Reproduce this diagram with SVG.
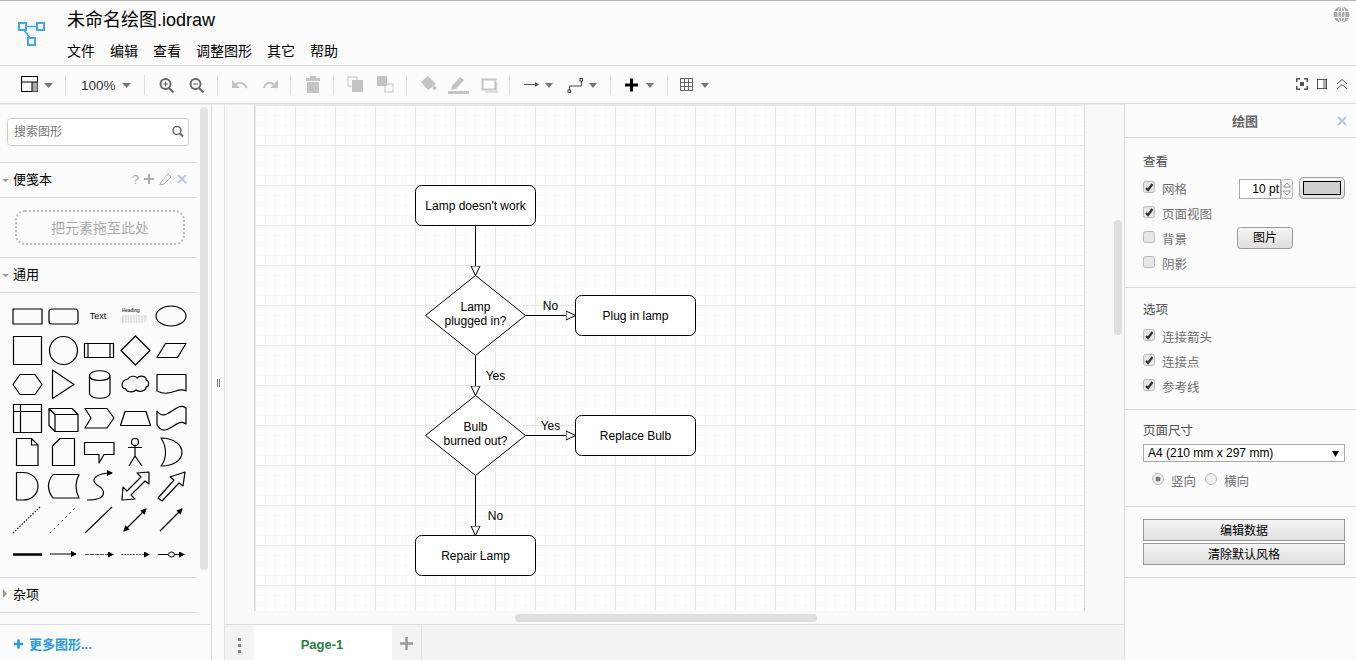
<svg xmlns="http://www.w3.org/2000/svg" width="1356" height="660" viewBox="0 0 1356 660">
<style>
text{font-family:"Liberation Sans","Noto Sans CJK SC",sans-serif}
.c{text-anchor:middle}
.m{font-size:14px}
.n{font-size:12px;text-anchor:middle}
.sb{font-size:13px}
.g{font-size:12.5px;fill:#707070}
.h{font-size:12.5px;fill:#505050}
.sep{stroke:#dadada;stroke-width:1;fill:none}
.tb{stroke:#e0e0e0;stroke-width:1;fill:none}
.ic{fill:none;stroke:#000;stroke-width:1.2;stroke-linejoin:round}
.i1{fill:none;stroke:#666;stroke-width:2}
.dis{fill:#c4c4c4;stroke:none}
.disl{fill:none;stroke:#c4c4c4;stroke-width:2}
.car{fill:#777}
.cb{fill:#e6e6e6;stroke:#bbb;stroke-width:1}
.ck{fill:none;stroke:#333;stroke-width:2.2}
.btn{fill:url(#bg);stroke:#999;stroke-width:1}
.node{fill:#fff;stroke:#000;stroke-width:1}
.e{fill:none;stroke:#000;stroke-width:1;marker-end:url(#tri)}
</style>
<defs>
<pattern id="grid" x="255" y="105" width="40" height="40" patternUnits="userSpaceOnUse">
<rect width="40" height="40" fill="#fff"/>
<path d="M10.5 0V40M20.5 0V40M30.5 0V40M0 10.5H40M0 20.5H40M0 30.5H40" stroke="#f6f6f6" stroke-width="1" fill="none"/>
<path d="M.5 0V40M0 .5H40" stroke="#e8e8e8" stroke-width="1" fill="none"/>
</pattern>
<linearGradient id="bg" x1="0" y1="0" x2="0" y2="1"><stop offset="0" stop-color="#f6f6f6"/><stop offset="1" stop-color="#dedede"/></linearGradient>
<marker id="tri" markerUnits="userSpaceOnUse" markerWidth="12" markerHeight="11" refX="10" refY="5" orient="auto" viewBox="0 0 12 10">
<path d="M.5 .5L10 5L.5 9.500Z" fill="#fff" stroke="#000" stroke-width="1"/>
</marker>
<marker id="ah" markerUnits="userSpaceOnUse" markerWidth="6" markerHeight="6" refX="5" refY="3" orient="auto" viewBox="0 0 6 6"><path d="M0 0L6 3L0 6Z" fill="#000"/></marker>
<marker id="ahs" markerUnits="userSpaceOnUse" markerWidth="6" markerHeight="6" refX="5" refY="3" orient="auto-start-reverse" viewBox="0 0 6 6"><path d="M0 0L6 3L0 6Z" fill="#000"/></marker>
</defs>

<rect width="1356" height="660" fill="#fbfbfb"/>
<rect width="1356" height="1" fill="#b5b5b5"/>

<g id="canvas">
<rect x="225" y="104" width="899" height="521" fill="#f8f9fa"/>
<rect x="224" y="104" width="1" height="521" fill="#e4e4e4"/>
<rect x="254" y="104" width="1" height="507" fill="#dcdcdc"/>
<rect x="1084" y="104" width="1" height="507" fill="#dcdcdc"/>
<rect x="255" y="104" width="829" height="507" fill="url(#grid)"/>
<rect x="1114" y="220" width="8" height="115" rx="4" fill="#dedede"/>
<rect x="515" y="614" width="302" height="8" rx="4" fill="#dedede"/>
</g>

<g id="header">
<g fill="none" stroke="#3fa9e8" stroke-width="2">
<rect x="19" y="23" width="7" height="7"/><rect x="37" y="23" width="7" height="7"/><rect x="28" y="38" width="7" height="7"/>
<path d="M26 26.500H37M24 30L30 38" stroke-width="1.500"/>
</g>
<text x="67" y="26" font-size="18px">未命名绘图.iodraw</text>
<text x="67" y="56" class="m">文件</text>
<text x="110" y="56" class="m">编辑</text>
<text x="153" y="56" class="m">查看</text>
<text x="196" y="56" class="m">调整图形</text>
<text x="267" y="56" class="m">其它</text>
<text x="310" y="56" class="m">帮助</text>
<circle cx="1341.500" cy="14.500" r="8" fill="#a8a8a8"/>
<g fill="none" stroke="#fbfbfb" stroke-width="1"><ellipse cx="1341.500" cy="14.500" rx="3.500" ry="8"/><path d="M1334 11.500H1349M1334 17.500H1349M1341.500 7V22"/></g>
</g>

<g id="toolbar">
<rect y="65" width="1356" height="1" fill="#dadada"/>
<rect y="103" width="1356" height="1.500" fill="#dadada"/>
<path class="tb" d="M65.500 75V95M144.500 75V95M217.500 75V95M290.500 75V95M333.500 75V95M406.500 75V95M509.500 75V95M610.500 75V95M667.500 75V95"/>
<rect x="21.500" y="76.500" width="16" height="15" fill="none" stroke="#000"/><rect x="32" y="82" width="5.500" height="9.500" fill="#aaa"/><path d="M21.500 82H37.500M32 82V91.500" fill="none" stroke="#000"/>
<path class="car" d="M44 83H53L48.500 88Z"/>
<text x="81" y="90" font-size="13.500px" style="fill:#333">100%</text>
<path class="car" d="M122 83H131L126.500 88Z"/>
<g class="i1"><circle cx="165.500" cy="84" r="5"/><path d="M169 88L173.500 92.500"/><path d="M163 84H168M165.500 81.500V86.500" stroke-width="1"/></g>
<g class="i1"><circle cx="195.500" cy="84" r="5"/><path d="M199 88L203.500 92.500"/><path d="M193 84H198" stroke-width="1"/></g>
<path class="disl" d="M234 88C236 81 243 81 247 88"/><path class="dis" d="M232 80V88H240Z"/>
<path class="disl" d="M264 88C266 81 273 81 276 88"/><path class="dis" d="M278 80V88H270Z"/>
<path class="dis" d="M306 78H320V81H306ZM310 76H316V78H310ZM307 82H319V93H307Z"/>
<g class="disl" stroke-width="1.500"><rect x="348" y="77" width="9" height="9" stroke-width="1"/><rect x="353" y="81" width="9" height="10" fill="#c4c4c4"/></g>
<g class="disl" stroke-width="1.500"><rect x="378" y="77" width="8" height="8" fill="#c4c4c4"/><rect x="385" y="84" width="8" height="8" stroke-width="1"/></g>
<path class="dis" d="M421 82L428 76L436 84L428 90Z"/><circle class="dis" cx="434.500" cy="88" r="2"/>
<path class="dis" d="M452 86L460 77L464 80L456 89L451 90Z"/><rect class="dis" x="448" y="91" width="21" height="3"/>
<path d="M496.500 83V92H486" fill="none" stroke="#ddd" stroke-width="2"/><rect x="482.500" y="79.500" width="13" height="10" fill="#fff" stroke="#c4c4c4" stroke-width="2"/>
<path d="M524 84.500H537" stroke="#555" stroke-width="1"/><path d="M535 82L539 84.500L535 87Z" fill="#555"/>
<path class="car" d="M545 83H553L549 88Z"/>
<path d="M569.500 91V86H581.500V80" fill="none" stroke="#444"/><rect x="568" y="90" width="2.500" height="2.500" fill="#fff" stroke="#444"/><rect x="580" y="78.500" width="2.500" height="2.500" fill="#fff" stroke="#444"/>
<path class="car" d="M589 83H597L593 88Z"/>
<path d="M625 85H638M631.500 78.500V91.500" stroke="#000" stroke-width="3"/>
<path class="car" d="M646 83H654L650 88Z"/>
<rect x="680.500" y="78.500" width="12" height="12" fill="none" stroke="#666"/><path d="M684.500 78.500V90.500M688.500 78.500V90.500M680.500 82.500H692.500M680.500 86.500H692.500" fill="none" stroke="#666"/>
<path class="car" d="M701 83H709L705 88Z"/>
<g fill="#555"><path d="M1296 78H1300V79.500H1297.500V82H1296ZM1308 78V82H1306.500V79.500H1304V78ZM1296 90V86H1297.500V88.500H1300V90ZM1308 90H1304V88.500H1306.500V86H1308Z"/><rect x="1300" y="82" width="4" height="4"/></g>
<rect x="1317.500" y="79.500" width="9" height="9" fill="none" stroke="#555"/><rect x="1323" y="80" width="3" height="8" fill="#aaa"/>
<path d="M1337 84L1342 79.500L1347 84M1337 89L1342 84.500L1347 89" fill="none" stroke="#555"/>
</g>

<g id="sidebar">
<rect x="211" y="104" width="1" height="556" fill="#dcdcdc"/>
<rect x="200" y="107" width="8" height="463" rx="4" fill="#e2e2e2"/>
<rect x="7.500" y="118.500" width="181" height="27" rx="3" fill="#fff" stroke="#ccc"/>
<text x="14" y="136" font-size="12px" style="fill:#777">搜索图形</text>
<g fill="none" stroke="#666" stroke-width="1.500"><circle cx="177" cy="130.500" r="4"/><path d="M180 133.500L183 136.500" stroke-width="2"/></g>
<path class="sep" d="M0 162.500H197M0 197.500H197M0 257.500H197M0 292.500H197M0 577.500H197M0 612.500H197"/>
<path d="M2 179H9L5.500 182Z" fill="#999"/>
<text x="13" y="184" class="sb">便笺本</text>
<text x="132" y="184" font-size="13px" style="fill:#aaa">?</text>
<path d="M144 179H154M149 174V184" stroke="#aaa" stroke-width="2"/>
<path d="M161 182L168 174L171 177L164 184L160 185Z" fill="none" stroke="#aaa"/>
<path d="M178 175L186 183M186 175L178 183" stroke="#b8c8dc" stroke-width="2"/>
<rect x="16" y="211" width="168" height="33" rx="9" fill="none" stroke="#bbb" stroke-width="2" stroke-dasharray="2 2"/>
<text x="100" y="233" class="c m" style="fill:#aaa">把元素拖至此处</text>
<path d="M2 274H9L5.500 277Z" fill="#999"/>
<text x="13" y="279" class="sb">通用</text>

<rect class="ic" x="13" y="309" width="29" height="15"/>
<rect class="ic" x="49" y="309" width="29" height="15" rx="3"/>
<text x="98" y="319" class="c" font-size="9px">Text</text>
<text x="122" y="312" font-size="4.500px" font-weight="bold" style="fill:#444">Heading</text>
<path d="M122 316H147M122 318H147M122 320H147M122 322H145" stroke="#aaa" stroke-width=".6" stroke-dasharray="2 .7"/>
<ellipse class="ic" cx="171" cy="316" rx="15" ry="10"/>

<rect class="ic" x="13.500" y="336.500" width="28" height="28"/>
<circle class="ic" cx="63.500" cy="350.500" r="14"/>
<rect class="ic" x="84.500" y="343.500" width="29" height="14"/><path class="ic" d="M88 343.500V357.500M110 343.500V357.500"/>
<path class="ic" d="M135.500 336L150 350.500L135.500 365L121 350.500Z"/>
<path class="ic" d="M157 357.500L165.500 343.500H186L177.500 357.500Z"/>

<path class="ic" d="M13 384.500L20 374.500H35L42 384.500L35 394.500H20Z"/>
<path class="ic" d="M52.500 370L74 384.500L52.500 398.500Z"/>
<path class="ic" d="M89.500 376V393C89.500 400 110 400 110 393V376C110 369 89.500 369 89.500 376C89.500 382 110 382 110 376"/>
<path class="ic" d="M128 379C130 375 136 376 137 378C140 375 147 376 146 380C150 381 149 387 146 387C146 392 138 392 136 390C133 393 126 392 126 389C120 388 121 380 128 379Z"/>
<path class="ic" d="M157 374.500H186V391C178 386 171 398 157 391Z"/>

<rect class="ic" x="13.500" y="404.500" width="28" height="28"/><path class="ic" d="M20.500 404.500V432.500M13.500 411.500H41.500"/>
<path class="ic" d="M49 408.500H72L78 414.500V431.500H55L49 425.500ZM49 408.500L55 414.500H78M55 414.500V431.500"/>
<path class="ic" d="M85 408.500H107L114 418L107 428H85L91 418Z"/>
<path class="ic" d="M120.500 425.500L125 411.500H146L150.500 425.500Z"/>
<path class="ic" d="M157 411C166 424 177 400 186 408V424C177 416 166 440 157 425Z"/>

<path class="ic" d="M16.500 438.500H31.500L38 445V465.500H16.500ZM31.500 438.500V445H38"/>
<path class="ic" d="M60 438.500H74.500V465.500H52.500V446Z"/>
<path class="ic" d="M84.500 442.500H114V454.500H104L99 463V454.500H84.500Z"/>
<circle class="ic" cx="135" cy="442" r="3.500"/><path class="ic" d="M135 445.500V456M128 447.500H142M135 456L129 466M135 456L142 466"/>
<path class="ic" d="M161 438C175 438 182 446 182 452C182 460 174 466 161 466C167 458 167 447 161 438Z"/>

<path class="ic" d="M16.500 472.500H23C32 472.500 38 479 38 486C38 494 32 500 23 500H16.500Z"/>
<path class="ic" d="M53 474.500H79C75 482 75 490 79 498H53C47 490 47 482 53 474.500Z"/>
<path d="M87 500C108 500 106 490 97 485C90 480 95 473 112 473" fill="none" stroke="#000" stroke-width="1.200" marker-end="url(#ah)"/>
<path class="ic" d="M122 500L123 487L127 491L141 477L137 473L149 472L149 484L145 481L131 495L135 499Z"/>
<path class="ic" d="M158 498L174 480L170 477L185 472L183 486L179 483L162 501Z"/>

<path d="M13 533L40 507" stroke="#000" stroke-width="1.200" stroke-dasharray="1.500 1.500"/>
<path d="M50 533L75 508" stroke="#000" stroke-width="1" stroke-dasharray="1.500 4"/>
<path d="M85 533L112 507" stroke="#000" stroke-width="1.200"/>
<path d="M124 531L146 509" stroke="#000" stroke-width="1.200" marker-start="url(#ahs)" marker-end="url(#ahs)"/>
<path d="M160 531L182 509" stroke="#000" stroke-width="1.200" marker-end="url(#ah)"/>

<path d="M13 554.500H42" stroke="#000" stroke-width="2.500"/>
<path d="M50 554H76" stroke="#000" stroke-width="1" marker-end="url(#ah)"/>
<path d="M85 554.500H113" stroke="#555" stroke-width="1" stroke-dasharray="4 1" marker-end="url(#ah)"/>
<path d="M121 554.500H149" stroke="#666" stroke-width="1" stroke-dasharray="2 1" marker-end="url(#ah)"/>
<path d="M158 554.500H184" stroke="#000" stroke-width="1" marker-end="url(#ah)"/><ellipse cx="171.500" cy="554.500" rx="3" ry="2.500" fill="#fff" stroke="#000"/>

<path d="M3 589V598L7 593.500Z" fill="#999"/>
<text x="13" y="599" class="sb">杂项</text>
<rect x="0" y="624" width="211" height="36" fill="#fbfbfb"/>
<rect x="0" y="624" width="211" height="1" fill="#dcdcdc"/>
<path d="M14 644H23M18.500 639.500V648.500" stroke="#1a9bd8" stroke-width="2.500"/>
<text x="29" y="649" font-size="13px" font-weight="bold" style="fill:#2b9bdc">更多图形...</text>
<path d="M217.500 379V387M219.500 379V387" stroke="#777"/>
</g>

<g id="tabs">
<rect x="225" y="625" width="899" height="35" fill="#f1f3f4"/>
<rect x="225" y="624" width="899" height="1" fill="#dcdcdc"/>
<rect x="224" y="625" width="1" height="35" fill="#e4e4e4"/>
<rect x="254" y="625" width="138" height="35" fill="#fff"/>
<path d="M421.500 625V660" stroke="#e0e0e0"/>
<rect x="238" y="638" width="3" height="3" fill="#888"/><rect x="238" y="644" width="3" height="3" fill="#888"/><rect x="238" y="650" width="3" height="3" fill="#888"/>
<text x="322" y="649" class="c" font-size="13px" font-weight="bold" style="fill:#2a8040">Page-1</text>
<path d="M400 643.500H413M406.500 637V650" stroke="#999" stroke-width="2.500"/>
</g>

<g id="panel">
<rect x="1124" y="104" width="232" height="556" fill="#fbfbfb"/>
<rect x="1124" y="104" width="1" height="556" fill="#dcdcdc"/>
<path class="sep" d="M1125 137.500H1356M1125 287.500H1356M1125 409.500H1356M1125 506.500H1356M1125 577.500H1356"/>
<text x="1245" y="126" class="c" font-size="13px" font-weight="bold" style="fill:#666">绘图</text>
<path d="M1338 117L1346 125M1346 117L1338 125" stroke="#b8c8dc" stroke-width="2"/>
<text x="1143" y="166" class="h">查看</text>
<rect class="cb" x="1143.500" y="181.500" width="11" height="11" rx="2"/><path class="ck" d="M1146 188L1148 190L1152.500 184"/>
<text x="1162" y="194" class="g">网格</text>
<rect class="cb" x="1143.500" y="206.500" width="11" height="11" rx="2"/><path class="ck" d="M1146 213L1148 215L1152.500 209"/>
<text x="1162" y="219" class="g">页面视图</text>
<rect class="cb" x="1143.500" y="231.500" width="11" height="11" rx="2"/>
<text x="1162" y="244" class="g">背景</text>
<rect class="cb" x="1143.500" y="256.500" width="11" height="11" rx="2"/>
<text x="1162" y="269" class="g">阴影</text>
<rect x="1239.500" y="179.500" width="41" height="19" fill="#fff" stroke="#aaa"/>
<text x="1279" y="193" font-size="12px" text-anchor="end">10 pt</text>
<rect x="1281.500" y="179.500" width="11" height="19" rx="2" fill="#f4f4f4" stroke="#bbb"/>
<path d="M1283.500 187L1287 183L1290.500 187ZM1283.500 191L1287 195L1290.500 191Z" fill="#fff" stroke="#777" stroke-width=".8"/>
<rect class="btn" x="1299.500" y="177.500" width="45" height="21" rx="4"/>
<rect x="1303.500" y="181.500" width="37" height="13" fill="#cfcfcf" stroke="#000"/>
<rect class="btn" x="1237.500" y="227.500" width="55" height="21" rx="3"/>
<text x="1265" y="242" class="n">图片</text>

<text x="1143" y="314" class="h">选项</text>
<rect class="cb" x="1143.500" y="329.500" width="11" height="11" rx="2"/><path class="ck" d="M1146 336L1148 338L1152.500 332"/>
<text x="1162" y="342" class="g">连接箭头</text>
<rect class="cb" x="1143.500" y="354.500" width="11" height="11" rx="2"/><path class="ck" d="M1146 361L1148 363L1152.500 357"/>
<text x="1162" y="367" class="g">连接点</text>
<rect class="cb" x="1143.500" y="379.500" width="11" height="11" rx="2"/><path class="ck" d="M1146 386L1148 388L1152.500 382"/>
<text x="1162" y="392" class="g">参考线</text>

<text x="1143" y="435" class="h">页面尺寸</text>
<rect x="1143.500" y="444.500" width="201" height="17" fill="#fff" stroke="#aaa"/>
<text x="1148" y="457" font-size="12px">A4 (210 mm x 297 mm)</text>
<path d="M1332 451H1339L1335.500 457Z" fill="#000"/>
<circle cx="1158" cy="479" r="5.500" fill="#eee" stroke="#bbb"/><circle cx="1158" cy="479" r="2.500" fill="#777"/>
<text x="1171" y="486" class="g">竖向</text>
<circle cx="1211" cy="479" r="5.500" fill="#eee" stroke="#bbb"/>
<text x="1224" y="486" class="g">横向</text>
<rect class="btn" x="1143.500" y="519.500" width="201" height="21"/>
<text x="1244" y="535" class="n">编辑数据</text>
<rect class="btn" x="1143.500" y="543.500" width="201" height="21"/>
<text x="1244" y="559" class="n">清除默认风格</text>
</g>

<g id="connectors">
<path class="e" d="M475.500 225.500V275.500"/>
<path class="e" d="M525.500 315.500H575.500"/>
<path class="e" d="M475.500 355.500V395.500"/>
<path class="e" d="M525.500 435.500H575.500"/>
<path class="e" d="M475.500 475.500V535.500"/>
<text x="550.500" y="310" class="n">No</text>
<text x="495.500" y="380" class="n">Yes</text>
<text x="550.500" y="430" class="n">Yes</text>
<text x="495.500" y="520" class="n">No</text>
</g>
<g id="n1"><rect class="node" x="415.500" y="185.500" width="120" height="40" rx="6"/><text x="475.500" y="210" class="n">Lamp doesn't work</text></g>
<g id="n2"><path class="node" d="M475.500 275.500L525.500 315.500L475.500 355.500L425.500 315.500Z"/><text x="475.500" y="311" class="n">Lamp</text><text x="475.500" y="325" class="n">plugged in?</text></g>
<g id="n3"><rect class="node" x="575.500" y="295.500" width="120" height="40" rx="6"/><text x="635.500" y="320" class="n">Plug in lamp</text></g>
<g id="n4"><path class="node" d="M475.500 395.500L525.500 435.500L475.500 475.500L425.500 435.500Z"/><text x="475.500" y="431" class="n">Bulb</text><text x="475.500" y="445" class="n">burned out?</text></g>
<g id="n5"><rect class="node" x="575.500" y="415.500" width="120" height="40" rx="6"/><text x="635.500" y="440" class="n">Replace Bulb</text></g>
<g id="n6"><rect class="node" x="415.500" y="535.500" width="120" height="40" rx="6"/><text x="475.500" y="560" class="n">Repair Lamp</text></g>
</svg>
